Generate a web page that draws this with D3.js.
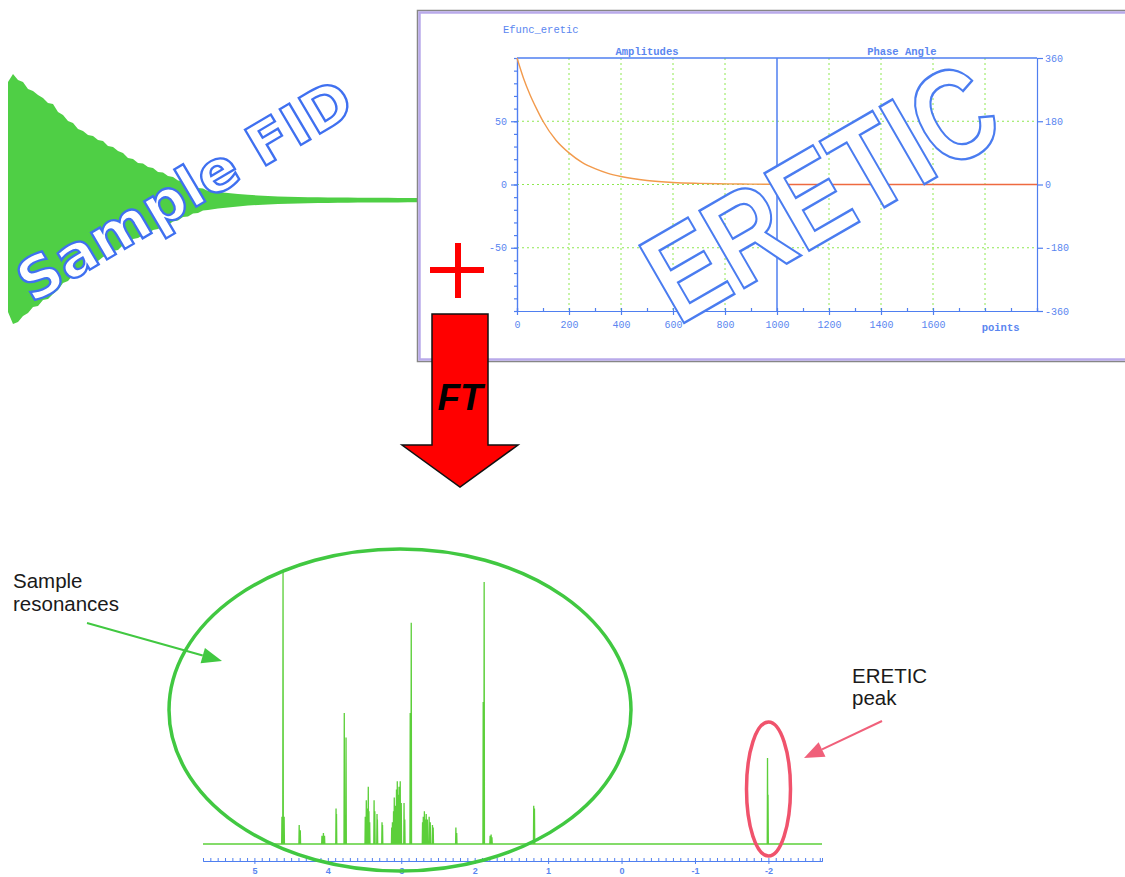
<!DOCTYPE html>
<html>
<head>
<meta charset="utf-8">
<script src="https://cdn.jsdelivr.net/npm/d3@7"></script>
<style>
  body { margin: 0; background: #fff; }
  svg { display: block; }
</style>
</head>
<body>
<div id="chart"></div>
<script>
// FID envelope (x in px from its left edge, half-height in px)
const fidX = [0, 5, 10, 15, 20, 25, 30, 35, 40, 45, 50, 55, 60, 65, 70, 75, 80, 85, 90, 95,
  100, 105, 110, 115, 120, 125, 130, 135, 140, 145, 150, 155, 160, 165, 170, 175, 180, 185, 190, 195,
  200, 210, 220, 230, 240, 250, 260, 270, 280, 290, 300, 310, 320, 330, 340, 350, 360, 370, 380, 390, 400, 410];
const fidUpper = [118, 126, 120, 118, 111, 109, 105, 102, 97, 96, 88, 85, 79, 77, 71, 69, 65, 64, 60, 59,
  54, 53, 49, 47, 42, 41, 37, 36.5, 33, 32, 28, 27.5, 24, 23, 19.5, 18.5, 15.5, 14.5, 12, 11.5,
  9, 8, 7, 6, 5.2, 4.5, 4, 3.6, 3.3, 3, 2.8, 2.7, 2.5, 2.5, 2.4, 2.3, 2.3, 2.2, 2.2, 2.1, 2.1, 2];
const fidLower = [112, 124, 122, 116, 113, 107, 106, 100, 99, 94, 90, 83, 81, 75, 73, 67, 66, 62, 61, 57,
  55, 51, 50, 45, 44, 39, 38, 35, 34, 30, 29, 26, 25, 21.5, 20.5, 17, 16.5, 13.5, 13, 10.5,
  10, 8.5, 7.5, 6.5, 5.5, 5, 4.5, 4, 3.7, 3.4, 3.2, 3, 2.9, 2.8, 2.7, 2.6, 2.5, 2.5, 2.4, 2.4, 2.3, 2.3];

// ERETIC reference function
const ampPoints = [0, 25, 50, 75, 100, 150, 200, 250, 300, 350, 400, 500, 600, 700, 800, 900, 1000];
const ampValues = [100, 84, 71, 60, 50, 35, 25, 17.5, 12.5, 8.8, 6.3, 3.2, 1.6, 0.9, 0.5, 0.3, 0.2];
const phasePoints = [1000, 2000];
const phaseValues = [0, 0];

const pointTicks = [0, 200, 400, 600, 800, 1000, 1200, 1400, 1600];
const gridPoints = [200, 400, 600, 800, 1200, 1400, 1600, 1800];
const ampTicks = [50, 0, -50];
const phaseTicks = [360, 180, 0, -180, -360];

// 1H spectrum: peak positions (ppm) and heights (% of the tallest line)
const peakPpm = [4.625, 4.61, 4.595, 4.39, 4.375, 4.08, 4.06, 4.045, 3.888, 3.882, 3.776, 3.752,
  3.49, 3.476, 3.465, 3.449, 3.44, 3.43, 3.37, 3.36, 3.33, 3.325, 3.262, 3.255,
  3.13, 3.12, 3.105, 3.095, 3.08, 3.065, 3.054, 3.04, 3.03, 3.014, 3.0, 2.962, 2.952, 2.878, 2.864,
  2.71, 2.7, 2.685, 2.67, 2.66, 2.645, 2.62, 2.605, 2.575, 2.565, 2.256, 2.245,
  1.884, 1.871, 1.79, 1.776, 1.765, 1.196, 1.186];
const peakHeight = [10, 100, 10, 7, 5, 3, 4, 3, 13, 11, 48, 39,
  10, 16, 13, 21, 12, 8, 16, 12, 11, 9, 8, 7,
  6, 8, 12, 17, 14, 20, 23, 18, 21, 23, 15, 15, 9, 48, 81,
  8, 10, 12, 9, 11, 9, 10, 8, 7, 6, 6, 4,
  52, 96, 3, 3.5, 2.5, 14, 13];
const ereticPpm = [-1.988, -1.995];
const ereticHeight = [31.5, 18];
const ppmTicks = [5, 4, 3, 2, 1, 0, -1, -2];

const W = 1125, H = 877;
const blue = '#4f7ff0', blueText = '#5a86f0';
const mono = "'Liberation Mono', 'DejaVu Sans Mono', monospace";
const sans = "'Liberation Sans', Arial, sans-serif";
const plain = d => String(d); // keep "1000" and ASCII "-50" like the original print

const svg = d3.select('#chart').append('svg').attr('width', W).attr('height', H);

// ---------- Sample FID ----------
const fx = d3.scaleLinear().domain([0, 410]).range([8, 418]);
const fy = d3.scaleLinear().domain([-130, 130]).range([330, 70]);
const fidData = fidX.map((x, i) => [x, fidUpper[i], fidLower[i]]);
svg.append('path')
  .datum(fidData)
  .attr('d', d3.area().x(d => fx(d[0])).y0(d => fy(-d[2])).y1(d => fy(d[1])))
  .attr('fill', '#4fcf45');

svg.append('text')
  .attr('transform', 'translate(32,304) rotate(-30.6)')
  .attr('font-family', "'DejaVu Sans', sans-serif")
  .attr('font-weight', 'bold')
  .attr('font-size', 57)
  .attr('textLength', 378)
  .attr('lengthAdjust', 'spacingAndGlyphs')
  .attr('fill', '#fff')
  .attr('stroke', '#3f70f0')
  .attr('stroke-width', 2.3)
  .text('Sample FID');

// ---------- ERETIC function panel ----------
svg.append('rect').attr('x', 417.5).attr('y', 10.5).attr('width', 720).attr('height', 351)
  .attr('fill', '#fff').attr('stroke', '#868686').attr('stroke-width', 1.5);
svg.append('rect').attr('x', 419.5).attr('y', 12.5).attr('width', 716).attr('height', 347)
  .attr('fill', 'none').attr('stroke', '#b9aaea').attr('stroke-width', 2.5);

const xP = d3.scaleLinear().domain([0, 2000]).range([517, 1037]);
const yA = d3.scaleLinear().domain([-100, 100]).range([311, 58]);
const yPh = d3.scaleLinear().domain([-360, 360]).range([311, 58]);

const grid = svg.append('g')
  .attr('stroke', '#8ee850').attr('stroke-width', 1).attr('stroke-dasharray', '2,3');
grid.selectAll('.gx').data(gridPoints).enter().append('line')
  .attr('x1', d => xP(d)).attr('x2', d => xP(d)).attr('y1', yA(100)).attr('y2', yA(-100));
grid.selectAll('.gy').data(ampTicks).enter().append('line')
  .attr('x1', xP(0)).attr('x2', xP(2000)).attr('y1', d => yA(d)).attr('y2', d => yA(d));

function styleAxis(g) {
  g.selectAll('path, line').attr('stroke', blue).attr('stroke-width', 1.2);
  g.selectAll('text').attr('fill', blueText).attr('font-family', mono).attr('font-size', 10);
}

svg.append('g').attr('transform', 'translate(0,311)')
  .call(d3.axisBottom(xP).tickValues(pointTicks).tickFormat(plain).tickSize(4).tickSizeOuter(0).tickPadding(6))
  .call(styleAxis);
svg.append('g').attr('transform', 'translate(0,311)')
  .call(d3.axisTop(xP).tickValues(d3.range(0, 2001, 100)).tickSize(3).tickFormat(''))
  .call(styleAxis);
svg.append('g').attr('transform', 'translate(517,0)')
  .call(d3.axisLeft(yA).tickValues(ampTicks).tickFormat(plain).tickSize(6).tickSizeOuter(0).tickPadding(4))
  .call(styleAxis);
svg.append('g').attr('transform', 'translate(517,0)')
  .call(d3.axisLeft(yA).tickValues(d3.range(-100, 101, 10)).tickSize(3).tickFormat(''))
  .call(styleAxis);
svg.append('g').attr('transform', 'translate(1037,0)')
  .call(d3.axisRight(yPh).tickValues(phaseTicks).tickFormat(plain).tickSize(6).tickSizeOuter(0).tickPadding(2))
  .call(styleAxis);

svg.append('line').attr('x1', xP(0)).attr('x2', xP(2000)).attr('y1', 58).attr('y2', 58)
  .attr('stroke', blue).attr('stroke-width', 1.5);
svg.append('line').attr('x1', xP(1000)).attr('x2', xP(1000)).attr('y1', 58).attr('y2', 311)
  .attr('stroke', blue).attr('stroke-width', 1.5);

svg.append('text').attr('x', 503).attr('y', 33).text('Efunc_eretic')
  .attr('font-family', mono).attr('font-size', 10.5).attr('fill', blueText);
svg.append('text').attr('x', xP(500)).attr('y', 55).attr('text-anchor', 'middle').text('Amplitudes')
  .attr('font-family', mono).attr('font-size', 10.5).attr('font-weight', 'bold').attr('fill', blueText);
svg.append('text').attr('x', xP(1480)).attr('y', 55).attr('text-anchor', 'middle').text('Phase Angle')
  .attr('font-family', mono).attr('font-size', 10.5).attr('font-weight', 'bold').attr('fill', blueText);
svg.append('text').attr('x', xP(1860)).attr('y', 331).attr('text-anchor', 'middle').text('points')
  .attr('font-family', mono).attr('font-size', 10.5).attr('font-weight', 'bold').attr('fill', blueText);

const ampLine = d3.line().x(d => xP(d[0])).y(d => yA(d[1])).curve(d3.curveMonotoneX);
svg.append('path').datum(ampPoints.map((p, i) => [p, ampValues[i]]))
  .attr('d', ampLine).attr('fill', 'none').attr('stroke', '#f29a4c').attr('stroke-width', 1.4);
svg.append('path').datum(phasePoints.map((p, i) => [p, phaseValues[i]]))
  .attr('d', d3.line().x(d => xP(d[0])).y(d => yPh(d[1])))
  .attr('fill', 'none').attr('stroke', '#ee6a40').attr('stroke-width', 1.4);

svg.append('text')
  .attr('transform', 'translate(684,323) rotate(-30) scale(1,1.25)')
  .attr('x', -7)
  .attr('font-family', sans)
  .attr('font-weight', 'bold')
  .attr('font-size', 104)
  .attr('fill', '#fff')
  .attr('stroke', '#4a7cf0')
  .attr('stroke-width', 2.2)
  .attr('vector-effect', 'non-scaling-stroke')
  .text('ERETIC');

// ---------- plus and FT arrow ----------
svg.append('rect').attr('x', 430).attr('y', 267).attr('width', 54).attr('height', 6).attr('fill', '#ff0000');
svg.append('rect').attr('x', 455).attr('y', 243).attr('width', 6).attr('height', 55).attr('fill', '#ff0000');

svg.append('path')
  .attr('d', 'M432,314 L488,314 L488,445 L518,445 L460,487 L402,445 L432,445 Z')
  .attr('fill', '#ff0000').attr('stroke', '#111').attr('stroke-width', 1.5);
svg.append('text').attr('x', 460).attr('y', 410).attr('text-anchor', 'middle')
  .attr('font-family', sans).attr('font-weight', 'bold').attr('font-style', 'italic')
  .attr('font-size', 37).attr('fill', '#000').text('FT');

// ---------- spectrum ----------
const xS = d3.scaleLinear().domain([5.7, -2.73]).range([203, 822]);
const yS = d3.scaleLinear().domain([0, 100]).range([844, 571]);

const allPeaks = peakPpm.map((p, i) => [p, peakHeight[i]])
  .concat(ereticPpm.map((p, i) => [p, ereticHeight[i]]))
  .sort((a, b) => b[0] - a[0]);
const specPts = [[5.7, 0]];
allPeaks.forEach(([p, h]) => {
  specPts.push([p + 0.004, 0], [p, h], [p - 0.004, 0]);
});
specPts.push([-2.73, 0]);

svg.append('path').datum(specPts)
  .attr('d', d3.line().x(d => xS(d[0])).y(d => yS(d[1])))
  .attr('fill', 'none').attr('stroke', '#5ccf3a').attr('stroke-width', 1.3);

const sAxis = svg.append('g').attr('transform', 'translate(0,861)')
  .call(d3.axisBottom(xS).tickValues(ppmTicks).tickFormat(plain).tickSize(3).tickSizeOuter(0).tickPadding(4));
sAxis.selectAll('path, line').attr('stroke', blue);
sAxis.selectAll('text').attr('fill', blueText).attr('font-family', sans)
  .attr('font-weight', 'bold').attr('font-size', 9);
svg.append('g').attr('transform', 'translate(0,861)')
  .call(d3.axisTop(xS).tickValues(d3.range(-27, 58).map(d => d / 10)).tickSize(3).tickFormat(''))
  .call(g => g.selectAll('path, line').attr('stroke', blue));

// ---------- annotations ----------
svg.append('ellipse').attr('cx', 400).attr('cy', 710).attr('rx', 231).attr('ry', 161)
  .attr('fill', 'none').attr('stroke', '#41c841').attr('stroke-width', 3.5);
svg.append('ellipse').attr('cx', 768.5).attr('cy', 789).attr('rx', 22).attr('ry', 67)
  .attr('fill', 'none').attr('stroke', '#f0536c').attr('stroke-width', 3.5);

function arrow(x1, y1, x2, y2, color, len, half) {
  const a = Math.atan2(y2 - y1, x2 - x1);
  const bx = x2 - len * Math.cos(a), by = y2 - len * Math.sin(a);
  svg.append('line').attr('x1', x1).attr('y1', y1).attr('x2', bx).attr('y2', by)
    .attr('stroke', color).attr('stroke-width', 2);
  const px = -Math.sin(a) * half, py = Math.cos(a) * half;
  svg.append('path')
    .attr('d', `M${x2},${y2} L${bx + px},${by + py} L${bx - px},${by - py} Z`)
    .attr('fill', color);
}
arrow(87, 623, 222, 661, '#41c841', 20, 8);
arrow(882, 721, 804, 758, '#f0607a', 20, 8);

const label = (x, y, t) => svg.append('text').attr('x', x).attr('y', y).text(t)
  .attr('font-family', sans).attr('font-size', 20.5).attr('fill', '#1a1a1a');
label(13, 588, 'Sample');
label(13, 611, 'resonances');
label(852, 683, 'ERETIC');
label(852, 705, 'peak');
</script>
</body>
</html>
